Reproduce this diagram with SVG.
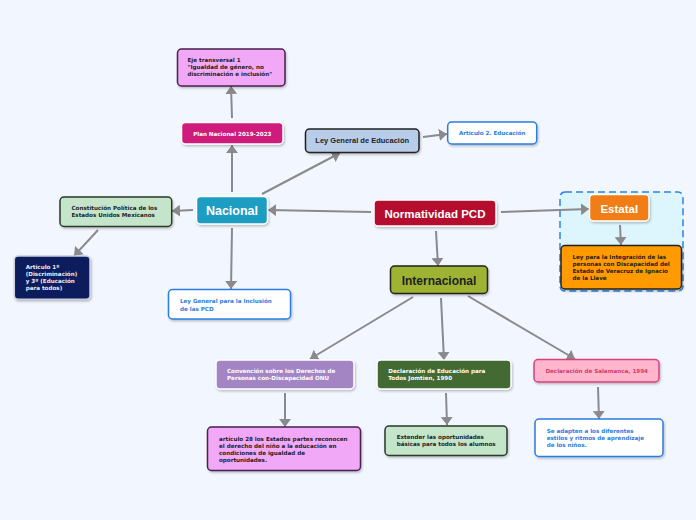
<svg xmlns="http://www.w3.org/2000/svg" width="696" height="520" viewBox="0 0 696 520">
<style>
.bg{fill:#f2f6fe}
.edge{stroke:#8a8a8c;stroke-width:2;fill:none;marker-end:url(#ah)}
.n{stroke-width:1.5;filter:url(#sh)}
.big{font-family:"Liberation Sans",Arial,sans-serif;font-weight:bold}
.sm{font-family:"DejaVu Sans",Verdana,sans-serif;font-weight:bold;font-size:5.6px}
.c{text-anchor:middle}
.dk{fill:#1e1e24}
.wh{fill:#ffffff}
.bl{fill:#2a7de1}
</style>
<defs>
<filter id="sh" x="-10%" y="-10%" width="125%" height="140%">
<feDropShadow dx="1" dy="1.5" stdDeviation="1" flood-color="#000" flood-opacity="0.25"/>
</filter>
<marker id="ah" viewBox="0 0 8 12" refX="8" refY="6" markerWidth="8" markerHeight="12" markerUnits="userSpaceOnUse" orient="auto">
<path d="M0,0 L8,6 L0,12 z" fill="#8a8a8c"/>
</marker>
</defs>
<rect class="bg" x="0" y="0" width="696" height="520"/>

<g id="estatal-area">
<rect x="560" y="192" width="123" height="99" rx="5" fill="#ddf6fe" stroke="#2d83e6" stroke-width="1.5" stroke-dasharray="7,4"/>
</g>

<g id="connectors">
<path class="edge" d="M371,212 L268,210"/>
<path class="edge" d="M501,212 L589,209"/>
<path class="edge" d="M436,231 L438,266"/>
<path class="edge" d="M232,192 L232,145"/>
<path class="edge" d="M232,118 L231,86"/>
<path class="edge" d="M262,194 L340,153"/>
<path class="edge" d="M423,137 L447,134"/>
<path class="edge" d="M193,210 L172,211"/>
<path class="edge" d="M98,230 L74,256"/>
<path class="edge" d="M232,228 L231,289"/>
<path class="edge" d="M620,225 L621,245"/>
<path class="edge" d="M413,297 L310,359"/>
<path class="edge" d="M441,298 L444,360"/>
<path class="edge" d="M468,296 L575,359"/>
<path class="edge" d="M285,393 L285,427"/>
<path class="edge" d="M446,393 L447,425"/>
<path class="edge" d="M598,387 L599,419"/>
</g>

<g id="normatividad">
<rect class="n" x="374" y="200" width="122" height="26" rx="4" fill="#b5102d" stroke="#ffffff"/>
<text class="big c wh" x="435" y="217.5" font-size="11.5">Normatividad PCD</text>
</g>

<g id="nacional">
<rect class="n" x="196.5" y="196.5" width="71" height="27.5" rx="4" fill="#1a9dc1" stroke="#ffffff"/>
<text class="big c wh" x="232" y="214.5" font-size="12.5">Nacional</text>
</g>

<g id="internacional">
<rect class="n" x="390.5" y="266" width="97" height="27.5" rx="4" fill="#9fb330" stroke="#222222"/>
<text class="big c dk" x="439" y="284.5" font-size="12">Internacional</text>
</g>

<g id="estatal">
<rect class="n" x="589.5" y="194.5" width="59.5" height="26.5" rx="4" fill="#f07d14" stroke="#ffffff"/>
<text class="big c wh" x="619.3" y="212.5" font-size="11.5">Estatal</text>
</g>

<g id="ley-integracion">
<rect class="n" x="561" y="245.5" width="120.5" height="43.5" rx="4" fill="#ff9a00" stroke="#222222"/>
<text class="sm dk" x="572.5" y="258.7">Ley para la Integración de las</text>
<text class="sm dk" x="572.5" y="266">personas con Discapacidad del</text>
<text class="sm dk" x="572.5" y="273.2">Estado de Veracruz de Ignacio</text>
<text class="sm dk" x="572.5" y="280.4">de la Llave</text>
</g>

<g id="plan-nacional">
<rect class="n" x="181.5" y="122.5" width="101.5" height="21.5" rx="4" fill="#cf1c7b" stroke="#ffffff"/>
<text class="sm c wh" x="232.3" y="135.5">Plan Nacional 2019-2023</text>
</g>

<g id="eje">
<rect class="n" x="177.5" y="49" width="107.5" height="37" rx="4" fill="#f1a9f7" stroke="#4a2050"/>
<text class="sm dk" x="187.5" y="62">Eje transversal 1</text>
<text class="sm dk" x="187.5" y="68.8">"Igualdad de género, no</text>
<text class="sm dk" x="187.5" y="75.5">discriminación e inclusión"</text>
</g>

<g id="ley-general-educacion">
<rect class="n" x="305.5" y="129" width="113.5" height="23.5" rx="4" fill="#b9cde9" stroke="#222222"/>
<text class="big c dk" x="362.2" y="143.3" font-size="7.5">Ley General de Educación</text>
</g>

<g id="articulo-2">
<rect class="n" x="447.7" y="122" width="89" height="22" rx="4" fill="#ffffff" stroke="#2a7de1"/>
<text class="sm c bl" x="492.2" y="135.2">Articulo 2. Educación</text>
</g>

<g id="constitucion">
<rect class="n" x="60" y="197" width="111.7" height="29.5" rx="4" fill="#c5e5ca" stroke="#2a3a2a"/>
<text class="sm dk" x="71.5" y="209.7">Constitución Política de los</text>
<text class="sm dk" x="71.5" y="217">Estados Unidos Mexicanos</text>
</g>

<g id="articulo-1">
<rect class="n" x="14.3" y="256" width="75.7" height="43.3" rx="4" fill="#0b1c5c" stroke="#c8d0e0"/>
<text class="sm" fill="#e8ecf8" x="25.7" y="268.7">Articulo 1º</text>
<text class="sm" fill="#e8ecf8" x="25.7" y="275.9">(Discriminación)</text>
<text class="sm" fill="#e8ecf8" x="25.7" y="283.1">y 3º (Educación</text>
<text class="sm" fill="#e8ecf8" x="25.7" y="290.3">para todos)</text>
</g>

<g id="ley-inclusion">
<rect class="n" x="168.5" y="289.5" width="122" height="29.5" rx="4" fill="#ffffff" stroke="#2a7de1"/>
<text class="sm bl" x="180" y="303">Ley General para la Inclusión</text>
<text class="sm bl" x="180" y="311">de las PCD</text>
</g>

<g id="convencion">
<rect class="n" x="216" y="360" width="138" height="29" rx="4" fill="#a385c4" stroke="#ffffff"/>
<text class="sm wh" x="227" y="373">Convención sobre los Derechos de</text>
<text class="sm wh" x="227" y="380.3">Personas con-Discapacidad ONU</text>
</g>

<g id="declaracion-jomtien">
<rect class="n" x="377" y="360" width="134" height="29" rx="4" fill="#426b31" stroke="#ffffff"/>
<text class="sm wh" x="388.3" y="373">Declaración de Educación para</text>
<text class="sm wh" x="388.3" y="380.3">Todos Jomtien, 1990</text>
</g>

<g id="salamanca">
<rect class="n" x="534" y="359.5" width="125" height="22.5" rx="4" fill="#ffb6cc" stroke="#d7437a"/>
<text class="sm c" fill="#d13c6e" x="596.7" y="373">Declaración de Salamanca, 1994</text>
</g>

<g id="articulo-28">
<rect class="n" x="207.5" y="427" width="153" height="43.5" rx="4" fill="#f1a9f7" stroke="#4a2050"/>
<text class="sm dk" x="219" y="441.3">artículo 28 los Estados partes reconocen</text>
<text class="sm dk" x="219" y="448.3">el derecho del niño a la educación en</text>
<text class="sm dk" x="219" y="455.3">condiciones de igualdad de</text>
<text class="sm dk" x="219" y="462.3">oportunidades.</text>
</g>

<g id="extender">
<rect class="n" x="385" y="426" width="122" height="29.5" rx="4" fill="#c5e5ca" stroke="#2a3a2a"/>
<text class="sm dk" x="396.7" y="439.3">Extender las oportunidades</text>
<text class="sm dk" x="396.7" y="446.3">básicas para todos los alumnos</text>
</g>

<g id="se-adapten">
<rect class="n" x="535" y="419" width="128" height="37.5" rx="4" fill="#ffffff" stroke="#2a7de1"/>
<text class="sm bl" x="546.7" y="433">Se adapten a los diferentes</text>
<text class="sm bl" x="546.7" y="440">estilos y ritmos de aprendizaje</text>
<text class="sm bl" x="546.7" y="447">de los niños.</text>
</g>
</svg>
